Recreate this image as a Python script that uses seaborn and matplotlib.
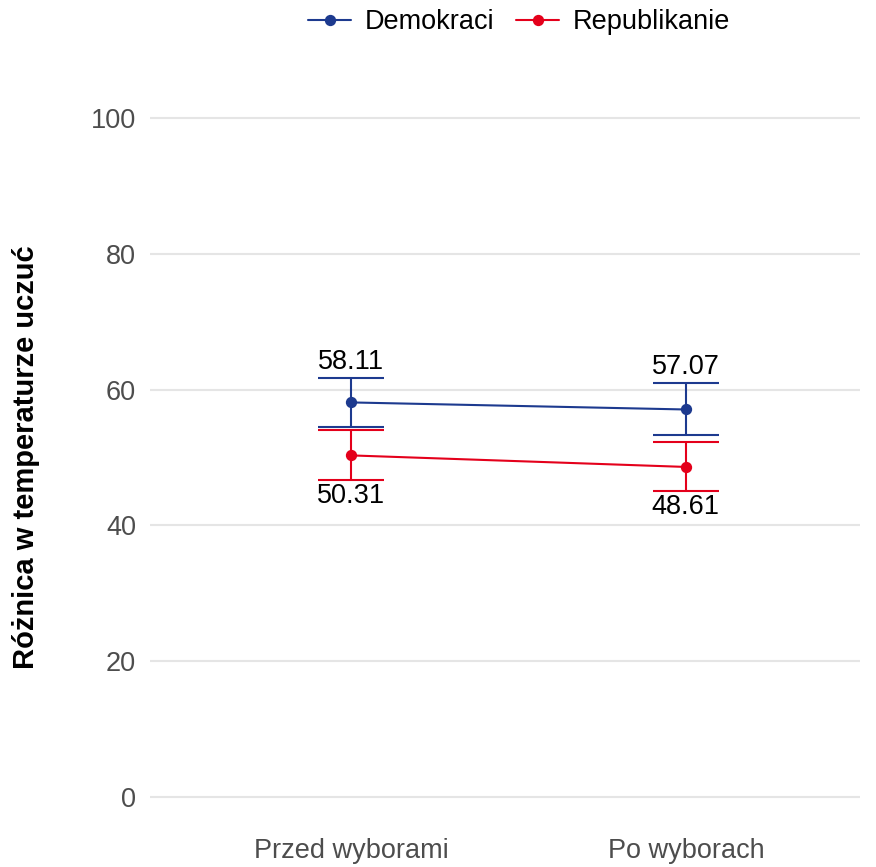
import numpy as np
import pandas as pd
import matplotlib
matplotlib.use("Agg")
import matplotlib.pyplot as plt
import seaborn as sns

periods = ["Przed wyborami", "Po wyborach"]
parties = ["Demokraci", "Republikanie"]
dem_mean = [58.11, 57.07]
dem_lo = [54.5, 53.3]
dem_hi = [61.7, 61.0]
rep_mean = [50.31, 48.61]
rep_lo = [46.7, 45.1]
rep_hi = [54.0, 52.3]
yticks = [0, 20, 40, 60, 80, 100]

colors = {"Demokraci": "#1D3A8F", "Republikanie": "#E4001B"}

df = pd.DataFrame({
    "period": periods * 2,
    "party": [parties[0]] * 2 + [parties[1]] * 2,
    "mean": dem_mean + rep_mean,
    "lo": dem_lo + rep_lo,
    "hi": dem_hi + rep_hi,
})

sns.set_theme(style="whitegrid")
plt.rcParams["font.family"] = ["Liberation Sans", "DejaVu Sans"]

fig = plt.figure(figsize=(8.76, 8.67), dpi=100)
ax = fig.add_axes([150 / 876, 36 / 867, 710 / 876, 747 / 867])

sns.pointplot(data=df, x="period", y="mean", hue="party", palette=colors,
              errorbar=None, markers="o", markersize=7, linewidth=1.5, ax=ax)

for party, g in df.groupby("party", sort=False):
    xs = np.arange(len(g))
    ax.errorbar(xs, g["mean"], yerr=[g["mean"] - g["lo"], g["hi"] - g["mean"]],
                fmt="none", ecolor=colors[party], elinewidth=1.5,
                capsize=24, capthick=1.5, zorder=3)
    for x, m, lo, hi in zip(xs, g["mean"], g["lo"], g["hi"]):
        if party == "Demokraci":
            ax.annotate(f"{m:.2f}", (x, hi), xytext=(0, 2), textcoords="offset points",
                        ha="center", va="bottom", fontsize=19.5, color="black")
        else:
            ax.annotate(f"{m:.2f}", (x, lo), xytext=(0, -2), textcoords="offset points",
                        ha="center", va="top", fontsize=19.5, color="black")

ax.set_xlim(-0.6, 1.52)
ax.set_ylim(-5, 105)
ax.set_yticks(yticks)
ax.grid(axis="x", visible=False)
ax.grid(axis="y", color="#E5E5E5", linewidth=1.5)
ax.set_facecolor("white")
for s in ax.spines.values():
    s.set_visible(False)
ax.tick_params(axis="both", labelsize=19.5, labelcolor="#4D4D4D", length=0)
ax.tick_params(axis="y", pad=10)
ax.tick_params(axis="x", pad=5)
ax.set_xlabel("")
ax.set_ylabel("Różnica w temperaturze uczuć", fontsize=21, fontweight="bold",
              color="black")
ax.yaxis.set_label_coords(-0.155, 0.5)

leg = ax.legend(loc="center", bbox_to_anchor=(0.52, 1.083), ncol=2,
                frameon=False, fontsize=19.5, handlelength=1.6, columnspacing=0.8,
                handletextpad=0.5, title=None)
for t in leg.get_texts():
    t.set_color("black")

fig.savefig("out.png", dpi=100)
